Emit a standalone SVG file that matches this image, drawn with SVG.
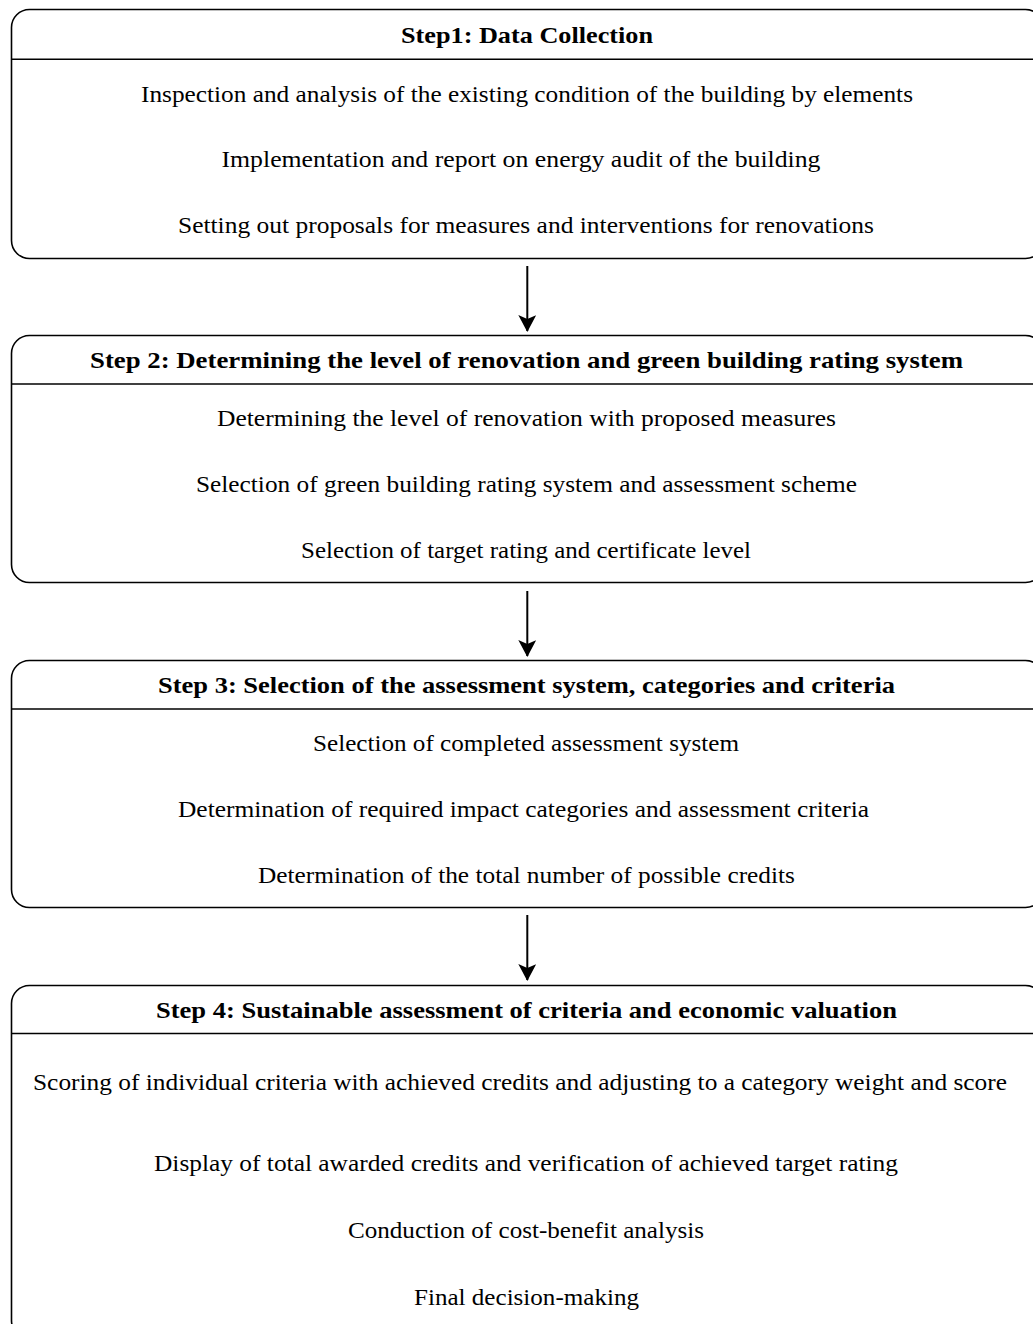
<svg xmlns="http://www.w3.org/2000/svg" width="1033" height="1324" viewBox="0 0 1033 1324">
<style>
.box{fill:none;stroke:#000;stroke-width:1.6}
.div{stroke:#000;stroke-width:1.4}
text{font-family:"Liberation Serif","DejaVu Serif",serif;font-size:22.5px;fill:#000;text-anchor:middle}
.t{font-weight:bold}
.con{stroke:#000;stroke-width:2;fill:none}
</style>
<defs>
<marker id="ah" markerWidth="18" markerHeight="18" refX="16" refY="9" orient="auto" markerUnits="userSpaceOnUse" viewBox="0 0 18 18">
<path d="M0,0 L17,9 L0,18 L4,9 Z" fill="#000"/>
</marker>
</defs>
<rect width="1033" height="1324" fill="#fff"/>
<g id="step1">
<rect class="box" x="11.5" y="9.5" width="1032" height="249" rx="18"/>
<line class="div" x1="11.5" y1="59.3" x2="1043" y2="59.3"/>
<text class="t" x="527" y="43" textLength="252" lengthAdjust="spacingAndGlyphs">Step1: Data Collection</text>
<text x="527" y="102" textLength="772" lengthAdjust="spacingAndGlyphs">Inspection and analysis of the existing condition of the building by elements</text>
<text x="521" y="167" textLength="599" lengthAdjust="spacingAndGlyphs">Implementation and report on energy audit of the building</text>
<text x="526" y="233" textLength="696" lengthAdjust="spacingAndGlyphs">Setting out proposals for measures and interventions for renovations</text>
</g>
<g id="step2">
<rect class="box" x="11.5" y="335.5" width="1032" height="247" rx="18"/>
<line class="div" x1="11.5" y1="384" x2="1043" y2="384"/>
<text class="t" x="526.5" y="368" textLength="873" lengthAdjust="spacingAndGlyphs">Step 2: Determining the level of renovation and green building rating system</text>
<text x="526.5" y="426" textLength="619" lengthAdjust="spacingAndGlyphs">Determining the level of renovation with proposed measures</text>
<text x="526.5" y="492" textLength="661" lengthAdjust="spacingAndGlyphs">Selection of green building rating system and assessment scheme</text>
<text x="526" y="558" textLength="450" lengthAdjust="spacingAndGlyphs">Selection of target rating and certificate level</text>
</g>
<g id="step3">
<rect class="box" x="11.5" y="660.5" width="1032" height="247" rx="18"/>
<line class="div" x1="11.5" y1="709" x2="1043" y2="709"/>
<text class="t" x="526.5" y="693" textLength="737" lengthAdjust="spacingAndGlyphs">Step 3: Selection of the assessment system, categories and criteria</text>
<text x="526" y="751" textLength="426" lengthAdjust="spacingAndGlyphs">Selection of completed assessment system</text>
<text x="523.5" y="817" textLength="691" lengthAdjust="spacingAndGlyphs">Determination of required impact categories and assessment criteria</text>
<text x="526.5" y="883" textLength="537" lengthAdjust="spacingAndGlyphs">Determination of the total number of possible credits</text>
</g>
<g id="step4">
<rect class="box" x="11.5" y="985.5" width="1032" height="353" rx="18"/>
<line class="div" x1="11.5" y1="1033.5" x2="1043" y2="1033.5"/>
<text class="t" x="526.5" y="1018" textLength="741" lengthAdjust="spacingAndGlyphs">Step 4: Sustainable assessment of criteria and economic valuation</text>
<text x="520" y="1090" textLength="974" lengthAdjust="spacingAndGlyphs">Scoring of individual criteria with achieved credits and adjusting to a category weight and score</text>
<text x="526" y="1171" textLength="744" lengthAdjust="spacingAndGlyphs">Display of total awarded credits and verification of achieved target rating</text>
<text x="526" y="1238" textLength="356" lengthAdjust="spacingAndGlyphs">Conduction of cost-benefit analysis</text>
<text x="526.5" y="1305" textLength="225" lengthAdjust="spacingAndGlyphs">Final decision-making</text>
</g>
<g id="connectors">
<line class="con" x1="527.3" y1="266" x2="527.3" y2="331" marker-end="url(#ah)"/>
<line class="con" x1="527.3" y1="591" x2="527.3" y2="656" marker-end="url(#ah)"/>
<line class="con" x1="527.3" y1="915" x2="527.3" y2="980" marker-end="url(#ah)"/>
</g>
</svg>
